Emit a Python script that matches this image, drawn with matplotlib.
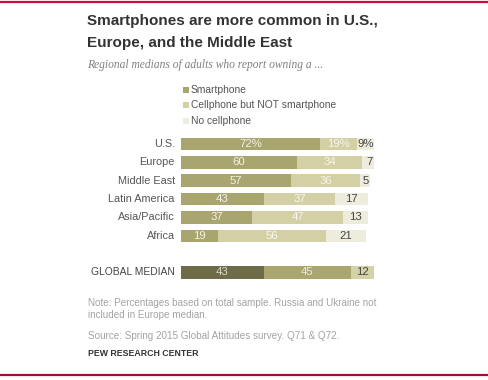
import matplotlib
matplotlib.use("Agg")
import matplotlib.pyplot as plt
from matplotlib.patches import Rectangle
from matplotlib.lines import Line2D

# ---- data ----
regions = ["U.S.", "Europe", "Middle East", "Latin America", "Asia/Pacific", "Africa"]
smartphone = [72, 60, 57, 43, 37, 19]
cell_not_smart = [19, 34, 36, 37, 47, 56]
no_cell = [9, 7, 5, 17, 13, 21]
global_label = "GLOBAL MEDIAN"
global_vals = [43, 45, 12]
series_names = ["Smartphone", "Cellphone but NOT smartphone", "No cellphone"]

title = "Smartphones are more common in U.S.,\nEurope, and the Middle East"
subtitle = "Regional medians of adults who report owning a ..."
note = "Note: Percentages based on total sample. Russia and Ukraine not\nincluded in Europe median."
source = "Source: Spring 2015 Global Attitudes survey. Q71 & Q72."
credit = "PEW RESEARCH CENTER"

# ---- style ----
W, H = 488, 380
c_sm, c_cell, c_no = "#a8a66e", "#d2d0a4", "#eeecdc"
g_sm, g_cell, g_no = "#6d6b48", "#a9a76e", "#d4d2a6"
sans = ["Liberation Sans", "DejaVu Sans"]

fig = plt.figure(figsize=(W / 100, H / 100), dpi=100)
fig.patch.set_facecolor("white")

def fx(px):
    return px / W

def fy(py):
    return 1 - py / H

# red rules
fig.add_artist(Line2D([0, 1], [fy(2), fy(2)], color="#cc0a45", lw=1.6, transform=fig.transFigure))
fig.add_artist(Line2D([0, 1], [fy(375), fy(375)], color="#9b1035", lw=1.6, transform=fig.transFigure))

# title / subtitle
fig.text(fx(87), fy(21), title.split("\n")[0], ha="left", va="center", fontsize=11,
         fontweight="bold", color="#333333", family=sans)
fig.text(fx(87), fy(43), title.split("\n")[1], ha="left", va="center", fontsize=11,
         fontweight="bold", color="#333333", family=sans)
fig.text(fx(87), fy(65), subtitle, ha="left", va="center", fontsize=8.3, style="italic",
         color="#808080", family=["Liberation Serif", "DejaVu Serif"])

# legend
leg_y = [90, 105, 121]
for name, col, y in zip(series_names, [c_sm, c_cell, c_no], leg_y):
    fig.add_artist(Rectangle((fx(183), fy(y + 3)), fx(6), 6 / H, color=col,
                             transform=fig.transFigure, lw=0))
    fig.text(fx(191), fy(y), name, ha="left", va="center", fontsize=7.4,
             color="#555555", family=sans)

# bars axes
row_sp = 18.3
top_px = 144 - 0.5 * row_sp
bot_px = 272.5 + 0.5 * row_sp
ax = fig.add_axes([fx(181), fy(bot_px), fx(374) - fx(181), (bot_px - top_px) / H])
ax.set_xlim(0, 100)
ax.set_ylim(7.5, -0.5)
ax.axis("off")

bh = 0.68
ys = list(range(len(regions)))
left2 = [a for a in smartphone]
left3 = [a + b for a, b in zip(smartphone, cell_not_smart)]
ax.barh(ys, smartphone, height=bh, color=c_sm, lw=0)
ax.barh(ys, cell_not_smart, left=left2, height=bh, color=c_cell, lw=0)
ax.barh(ys, no_cell, left=left3, height=bh, color=c_no, lw=0)

gy = 7
gl = [0, global_vals[0], global_vals[0] + global_vals[1]]
for v, l, c in zip(global_vals, gl, [g_sm, g_cell, g_no]):
    ax.barh([gy], [v], left=[l], height=bh, color=c, lw=0)

fs = 8.2
for i, y in enumerate(ys):
    suf = "%" if i == 0 else ""
    ax.text(smartphone[i] / 2, y, f"{smartphone[i]}{suf}", ha="center", va="center",
            fontsize=fs, color="#f3f2e6", family=sans)
    ax.text(left2[i] + cell_not_smart[i] / 2, y, f"{cell_not_smart[i]}{suf}", ha="center",
            va="center", fontsize=fs, color="#f7f6ec", family=sans)
    ax.text(left3[i] + no_cell[i] / 2, y, f"{no_cell[i]}{suf}", ha="center", va="center",
            fontsize=fs, color="#444444", family=sans)
    ax.text(-3.2, y, regions[i], ha="right", va="center", fontsize=7.8,
            color="#555555", family=sans)

gcols = ["#d8d7c6", "#ecebd8", "#444444"]
for v, l, c in zip(global_vals, gl, gcols):
    ax.text(l + v / 2, gy, f"{v}", ha="center", va="center", fontsize=fs, color=c, family=sans)
ax.text(-3.2, gy, global_label, ha="right", va="center", fontsize=7.4,
        color="#444444", family=sans)

# notes
fig.text(fx(88), fy(303), note.split("\n")[0], ha="left", va="center", fontsize=7.1,
         color="#a3a3a3", family=sans)
fig.text(fx(88), fy(315), note.split("\n")[1], ha="left", va="center", fontsize=7.1,
         color="#a3a3a3", family=sans)
fig.text(fx(88), fy(336), source, ha="left", va="center", fontsize=7.1, color="#a3a3a3",
         family=sans)
fig.text(fx(88), fy(353), credit, ha="left", va="center", fontsize=6.3, fontweight="bold",
         color="#333333", family=sans)

fig.savefig("out.png", dpi=100, facecolor="white")
